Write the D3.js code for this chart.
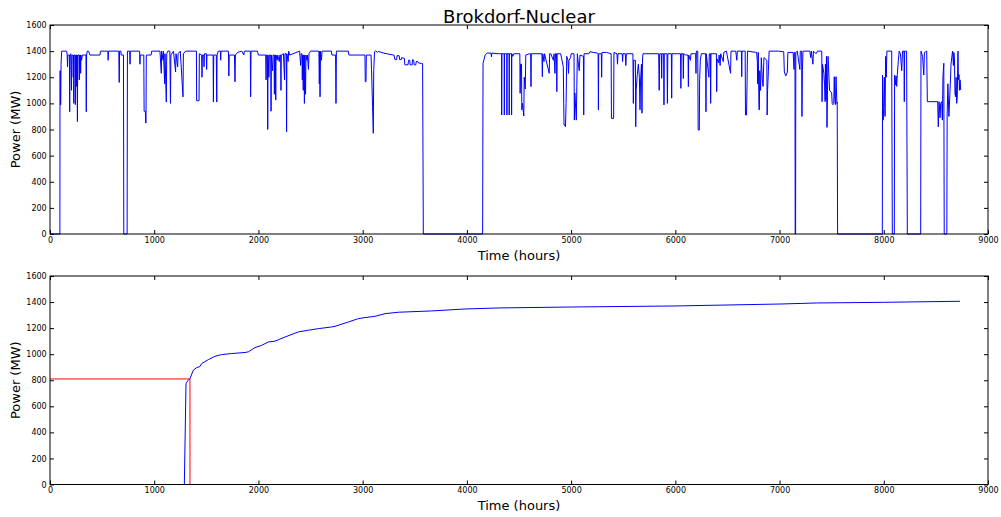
<!DOCTYPE html>
<html><head><meta charset="utf-8">
<script src="https://cdn.jsdelivr.net/npm/d3@7"></script>
<style>body{margin:0;background:#fff} text{font-family:"DejaVu Sans",sans-serif;fill:#000}</style>
</head><body><svg id="c" width="1001" height="517"></svg>
<script>
const titleText = "Brokdorf-Nuclear";
const xLabel = "Time (hours)";
const yLabel = "Power (MW)";
const xTicks = [0,1000,2000,3000,4000,5000,6000,7000,8000,9000];
const yTicks = [0,200,400,600,800,1000,1200,1400,1600];

// Hourly output (hour, MW)
const hourly = [
[0,0],[95,0],[96,1250],[99,1250],[100,990],[103,990],[106,1300],[112,1400],[160,1400],[165,1370],
[168,1280],[171,1370],[186,1370],[189,936],[192,1370],[200,1380],[206,1100],[209,1370],[220,1370],[223,1200],[226,1370],[228,1000],[231,1370],[240,1370],[243,990],[246,1370],[254,1370],[256,1130],[259,1370],[263,860],[266,1370],[278,1370],[281,1180],[284,1370],[292,1370],[294,1230],[297,1370],[303,1330],[310,1370],[318,1370],[345,1370],[348,936],[351,1370],[358,1400],[370,1400],[384,1370],[480,1370],[484,1400],[555,1400],[558,1330],[562,1400],[660,1400],[664,1160],[668,1400],[680,1400],[684,1370],[705,1370],[708,0],[740,0],[743,1400],[765,1400],[768,1300],[771,1400],[860,1400],[863,1300],[866,1370],[900,1370],[903,940],[915,940],[918,850],[921,850],[924,1370],[970,1370],[975,1400],[1055,1400],[1068,1230],[1071,1400],[1085,1330],[1088,1400],[1100,1150],[1103,1380],[1116,1010],[1120,1380],[1130,1400],[1150,1400],[1156,1000],[1160,1370],[1185,1400],[1205,1240],[1209,1380],[1225,1280],[1229,1380],[1250,1400],[1276,1050],[1280,1380],[1300,1400],[1405,1400],[1407,1020],[1430,1020],[1433,1380],[1455,1370],[1458,1200],[1462,1370],[1475,1370],[1478,1280],[1482,1380],[1500,1380],[1503,1260],[1506,1370],[1565,1370],[1568,1010],[1571,1370],[1596,1370],[1600,1010],[1603,1370],[1615,1400],[1635,1400],[1638,1330],[1641,1400],[1712,1400],[1716,1210],[1720,1370],[1770,1370],[1775,1165],[1779,1370],[1800,1390],[1840,1400],[1860,1370],[1865,1400],[1922,1400],[1925,1050],[1929,1400],[1990,1400],[2000,1370],[2070,1370],[2073,1180],[2076,1370],[2086,1370],[2089,800],[2092,1370],[2100,1200],[2105,1370],[2118,1370],[2121,940],[2124,1370],[2136,1250],[2140,1370],[2150,1370],[2153,1070],[2156,1370],[2163,1370],[2166,1025],[2169,1370],[2180,1330],[2185,1370],[2200,1320],[2205,1370],[2213,1370],[2216,1100],[2219,1370],[2240,1380],[2250,1180],[2254,1380],[2267,1380],[2270,783],[2273,1380],[2285,1320],[2290,1400],[2300,1370],[2395,1400],[2405,1290],[2410,1380],[2418,1380],[2421,1180],[2424,1370],[2430,1100],[2434,1370],[2438,1370],[2441,1000],[2444,1370],[2452,1070],[2456,1370],[2465,1330],[2470,1370],[2480,1260],[2485,1380],[2500,1400],[2580,1400],[2584,1150],[2588,1400],[2591,1050],[2595,1400],[2605,1330],[2610,1400],[2700,1400],[2705,1370],[2740,1370],[2744,1000],[2748,1400],[2862,1400],[2868,1370],[3022,1370],[3025,1166],[3032,1166],[3035,1370],[3080,1370],[3085,1260],[3095,975],[3102,771],[3106,1250],[3114,1395],[3124,1403],[3140,1390],[3150,1398],[3200,1385],[3294,1370],[3300,1370],[3310,1335],[3326,1335],[3330,1365],[3350,1365],[3355,1335],[3370,1335],[3374,1350],[3400,1345],[3405,1295],[3435,1295],[3440,1330],[3452,1330],[3455,1295],[3475,1295],[3478,1335],[3490,1330],[3494,1295],[3510,1295],[3514,1320],[3530,1320],[3535,1310],[3566,1305],[3575,1305],[3582,0],[4151,0],[4155,1307],[4175,1370],[4195,1385],[4232,1385],[4236,1355],[4240,1385],[4300,1380],[4333,1380],[4334,911],[4336,1380],[4358,1380],[4359,911],[4361,1380],[4383,1380],[4384,911],[4386,1380],[4405,1380],[4406,911],[4408,1380],[4428,1380],[4429,911],[4431,1380],[4440,1360],[4450,1380],[4508,1380],[4511,1077],[4515,1300],[4524,1300],[4527,951],[4533,1000],[4546,903],[4550,1200],[4560,1110],[4565,1370],[4600,1380],[4612,1380],[4615,1128],[4618,1380],[4720,1380],[4724,1204],[4728,1380],[4740,1320],[4745,1380],[4790,1230],[4794,1380],[4805,1380],[4830,1330],[4836,1380],[4845,1230],[4850,1380],[4860,1380],[4863,1090],[4866,1380],[4900,1380],[4925,1280],[4932,834],[4940,834],[4946,821],[4952,1000],[4958,1360],[4970,1330],[4975,1230],[4980,1330],[4995,1350],[5000,1380],[5028,1380],[5031,872],[5036,1080],[5050,872],[5055,1130],[5060,1380],[5070,1300],[5078,1250],[5085,1370],[5118,1360],[5121,911],[5124,1380],[5170,1380],[5180,1395],[5250,1385],[5259,1380],[5262,951],[5265,1380],[5290,1380],[5293,1200],[5296,1390],[5340,1390],[5384,1380],[5387,885],[5408,885],[5411,1390],[5440,1380],[5445,1300],[5450,1380],[5490,1380],[5494,1320],[5498,1380],[5520,1380],[5525,1290],[5530,1380],[5593,1380],[5597,1000],[5601,1330],[5617,1330],[5620,821],[5624,1100],[5635,1220],[5645,1300],[5655,1200],[5661,951],[5666,1170],[5675,1300],[5680,925],[5685,1340],[5690,1380],[5840,1380],[5845,1100],[5850,1380],[5866,1380],[5869,1192],[5872,1380],[5888,1380],[5891,988],[5894,1380],[5920,1380],[5924,1000],[5928,1380],[5962,1380],[5965,1040],[5968,1380],
[6050,1380],[6053,1115],[6057,1380],[6074,1380],[6077,1190],[6080,1380],[6100,1370],[6122,1370],[6125,1128],[6128,1370],[6145,1330],[6150,1380],[6195,1380],[6198,1230],[6202,1400],[6215,1400],[6219,796],[6230,796],[6233,1180],[6240,1330],[6250,1380],[6291,1380],[6294,936],[6297,1380],[6322,1200],[6326,1380],[6336,1380],[6339,1000],[6342,1380],[6394,1380],[6397,1090],[6400,1340],[6415,1310],[6420,1370],[6430,1290],[6435,1380],[6460,1320],[6465,1390],[6490,1400],[6530,1230],[6534,1400],[6580,1400],[6590,1330],[6595,1400],[6634,1400],[6637,1204],[6640,1400],[6670,1400],[6673,911],[6683,911],[6688,1150],[6692,1400],[6780,1390],[6787,1320],[6790,1150],[6795,1390],[6803,951],[6806,951],[6810,1250],[6818,1100],[6825,1350],[6835,1180],[6842,1130],[6850,1350],[6878,1330],[6881,911],[6885,1100],[6893,1250],[6900,1400],[6990,1400],[7040,1395],[7046,1240],[7060,1210],[7075,1240],[7080,1390],[7130,1390],[7139,1260],[7142,1390],[7148,1390],[7150,0],[7154,0],[7156,1390],[7170,1400],[7195,1260],[7199,1400],[7212,1400],[7215,900],[7219,1250],[7225,1400],[7290,1400],[7300,1350],[7305,1400],[7320,1300],[7325,1400],[7350,1380],[7365,1400],[7405,1400],[7408,1013],[7412,1300],[7425,1230],[7432,1140],[7437,1013],[7440,1300],[7446,1025],[7450,1360],[7455,816],[7460,1100],[7465,1360],[7480,1100],[7500,1080],[7505,1000],[7512,990],[7520,1000],[7525,1204],[7530,1040],[7536,990],[7542,1204],[7550,1000],[7553,1010],[7557,0],[7986,0],[7988,1217],[7994,872],[7999,960],[8005,1200],[8012,900],[8018,1360],[8024,1200],[8030,1400],[8076,1400],[8082,0],[8101,0],[8104,1217],[8112,1140],[8118,1210],[8124,1130],[8130,1220],[8140,1330],[8148,1400],[8160,1380],[8172,1250],[8180,1400],[8194,1400],[8197,1013],[8200,1400],[8219,1400],[8226,0],[8354,0],[8357,1400],[8372,1360],[8384,1217],[8390,1390],[8412,1400],[8418,1013],[8517,1013],[8523,821],[8530,1013],[8540,890],[8546,1000],[8556,1013],[8562,872],[8568,1204],[8576,1307],[8580,0],[8605,0],[8608,911],[8615,1150],[8625,900],[8640,1180],[8645,1300],[8652,1350],[8660,1400],[8668,1290],[8672,1390],[8678,1350],[8683,1080],[8688,1050],[8694,1200],[8700,1000],[8705,1050],[8712,1400],[8716,1180],[8722,1220],[8726,1100],[8732,1180],[8738,1102]
];

// Sorted (duration) curve
const durHours = [0,1289,1305,1321,1343,1375,1407,1439,1455,1519,1583,1647,1743,1871,1903,1967,2031,2095,2159,2255,2383,2479,2575,2703,2735,2863,2959,3023,3119,3215,3343,3663,3983,4318,5005,5997,7004,7355,7995,8731];
const durMW    = [0,0,775,795,813,877,897,905,928,958,984,997,1005,1013,1018,1051,1068,1094,1100,1132,1171,1184,1196,1209,1214,1247,1273,1281,1291,1311,1322,1332,1347,1355,1362,1370,1385,1393,1398,1406];

// Threshold step (red)
const threshHours = [0,1343,1343];
const threshMW    = [810,810,0];

const svg = d3.select('#c');
const X0 = 50, X1 = 988;

function panel(top, bottom, series){
  const x = d3.scaleLinear().domain([0,9000]).range([X0,X1]);
  const y = d3.scaleLinear().domain([0,1600]).range([bottom,top]);
  const g = svg.append('g');
  const line = d3.line().x(d=>x(d[0])).y(d=>y(d[1]));
  series.forEach(s=>{
    g.append('path').datum(s.data).attr('d',line)
      .attr('fill','none').attr('stroke',s.color).attr('stroke-width',1).attr('stroke-linejoin','round');
  });
  const fmt = d3.format('d');
  const ax = (gen, tr, labels) => {
    const a = g.append('g').attr('transform',tr).call(gen);
    a.select('.domain').remove();
    a.selectAll('line').attr('stroke','#000');
    a.selectAll('text').attr('font-size','8px').attr('font-family','DejaVu Sans').attr('fill','#000');
    if(!labels) a.selectAll('text').remove();
    return a;
  };
  ax(d3.axisBottom(x).tickValues(xTicks).tickFormat(fmt).tickSize(-4).tickPadding(3), `translate(0,${bottom})`, true);
  ax(d3.axisTop(x).tickValues(xTicks).tickSize(-4), `translate(0,${top})`, false);
  ax(d3.axisLeft(y).tickValues(yTicks).tickFormat(fmt).tickSize(-4).tickPadding(3.3), `translate(${X0},0)`, true);
  ax(d3.axisRight(y).tickValues(yTicks).tickSize(-4), `translate(${X1},0)`, false);
  g.append('rect').attr('x',X0).attr('y',top).attr('width',X1-X0).attr('height',bottom-top)
    .attr('fill','none').attr('stroke','#000').attr('stroke-width',1);
  g.append('text').attr('x',(X0+X1)/2).attr('y',bottom+25.5).attr('text-anchor','middle')
    .attr('font-size','13px').text(xLabel);
  g.append('text').attr('transform',`translate(20,${(top+bottom)/2}) rotate(-90)`).attr('text-anchor','middle')
    .attr('font-size','13px').text(yLabel);
}

panel(25, 234, [{data: hourly, color:'#0000ff'}]);
panel(276, 484.5, [
  {data: threshHours.map((h,i)=>[h,threshMW[i]]), color:'#ff0000'},
  {data: durHours.map((h,i)=>[h,durMW[i]]), color:'#0000ff'}
]);
svg.append('text').attr('x',(X0+X1)/2).attr('y',22.5).attr('text-anchor','middle')
  .attr('font-size','18px').text(titleText);
</script></body></html>
